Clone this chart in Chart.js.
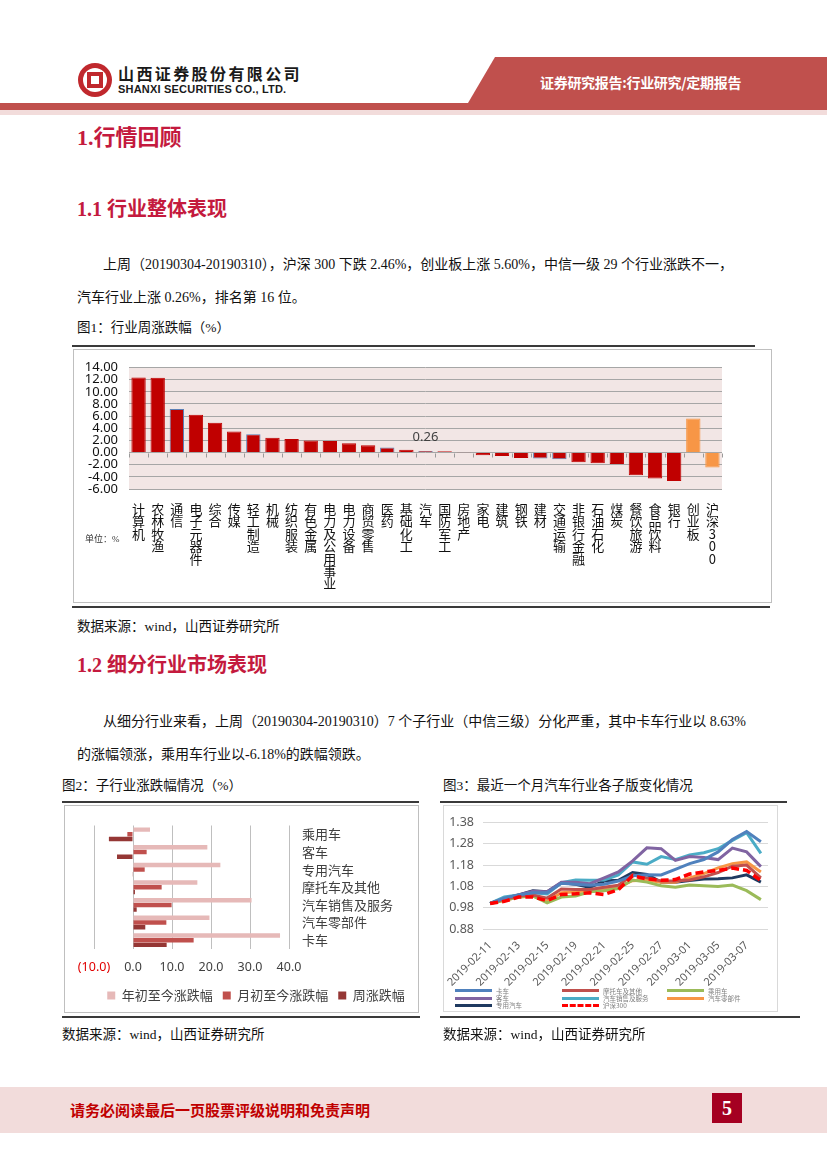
<!DOCTYPE html>
<html>
<head>
<meta charset="utf-8">
<title>汽车行业周报</title>
<script src="https://cdn.jsdelivr.net/npm/chart.js@4.4.1/dist/chart.umd.min.js"></script>
<style>
  html,body{margin:0;padding:0;}
  body{width:827px;height:1169px;position:relative;overflow:hidden;background:#fff;
       font-family:"Liberation Serif","Noto Sans CJK SC",serif;color:#111;}
  .t{position:absolute;white-space:nowrap;}
  .h{color:#c41a3e;font-weight:bold;}
  .p{font-size:14px;line-height:16px;}
  .cap{font-size:13.5px;line-height:16px;}
  .rule{position:absolute;background:#3a3a3a;height:2px;}
  .box{position:absolute;box-sizing:border-box;border:1px solid #bfbfbf;}
  canvas{position:absolute;}
  #legend3{position:absolute;left:455px;top:987px;display:grid;
           grid-template-columns:107px 105px 100px;grid-auto-rows:7.4px;
           font-family:"Noto Sans CJK SC",sans-serif;font-size:6.5px;color:#7f7f7f;}
  #legend3 div{display:flex;align-items:center;white-space:nowrap;}
  #legend3 span.ln{display:inline-block;width:37px;height:0;margin-right:4px;}
</style>
</head>
<body>

<!-- 页眉 -->
<div class="t" style="left:468px;top:57px;width:359px;height:46px;background:#c0504d;clip-path:polygon(27px 0,100% 0,100% 100%,0 100%);"></div>
<div style="position:absolute;left:0;top:103px;width:827px;height:7px;background:#c0504d"></div>
<div style="position:absolute;left:0;top:110px;width:827px;height:5px;background:#f2dcdb"></div>
<div style="position:absolute;left:78px;top:63px;width:34px;height:34px;border-radius:50%;background:#c0282d;">
  <div style="position:absolute;left:5px;top:5px;width:24px;height:24px;border-radius:50%;background:#fff;">
    <div style="position:absolute;left:4px;top:4px;width:16px;height:16px;background:#c0282d;">
      <div style="position:absolute;left:4px;top:4px;width:8px;height:8px;background:#fff;"></div>
    </div>
  </div>
</div>
<div class="t" style="left:118px;top:64px;font-family:'Noto Sans CJK SC';font-weight:bold;font-size:16px;line-height:18px;letter-spacing:2.4px;color:#1a1a1a;">山西证券股份有限公司</div>
<div class="t" style="left:118px;top:83px;font-family:'Liberation Sans';font-weight:bold;font-size:11px;line-height:12px;letter-spacing:0.2px;color:#1a1a1a;">SHANXI SECURITIES CO., LTD.</div>
<div class="t" style="left:540px;top:73px;font-family:'Noto Sans CJK SC';font-weight:bold;font-size:14px;line-height:18px;color:#fff;letter-spacing:-0.3px;">证券研究报告:行业研究/定期报告</div>

<!-- 正文 -->
<div class="t h" style="left:77px;top:126px;font-size:22px;line-height:24px;">1.行情回顾</div>
<div class="t h" style="left:77px;top:198px;font-size:20px;line-height:22px;">1.1 行业整体表现</div>
<div class="t p" style="left:103px;top:257px;">上周（20190304-20190310），沪深 300 下跌 2.46%，创业板上涨 5.60%，中信一级 29 个行业涨跌不一，</div>
<div class="t p" style="left:77px;top:290px;">汽车行业上涨 0.26%，排名第 16 位。</div>
<div class="t cap" style="left:77px;top:320px;">图1：行业周涨跌幅（%）</div>

<div class="rule" style="left:72px;top:345px;width:683px;"></div>
<div class="box" style="left:73px;top:349px;width:699px;height:254px;"></div>
<canvas id="c1" width="697" height="252" style="left:74px;top:350px;width:697px;height:252px;"></canvas>
<div class="t" style="left:85px;top:534px;font-size:9px;line-height:11px;color:#333;">单位：%</div>
<div class="rule" style="left:72px;top:606px;width:698px;"></div>
<div class="t cap" style="left:77px;top:619px;">数据来源：wind，山西证券研究所</div>

<div class="t h" style="left:77px;top:654px;font-size:20px;line-height:22px;">1.2 细分行业市场表现</div>
<div class="t p" style="left:103px;top:714px;">从细分行业来看，上周（20190304-20190310）7 个子行业（中信三级）分化严重，其中卡车行业以 8.63%</div>
<div class="t p" style="left:77px;top:747px;">的涨幅领涨，乘用车行业以-6.18%的跌幅领跌。</div>

<div class="t cap" style="left:62px;top:778px;">图2：子行业涨跌幅情况（%）</div>
<div class="t cap" style="left:443px;top:778px;">图3：最近一个月汽车行业各子版变化情况</div>
<div class="rule" style="left:62px;top:801px;width:357px;"></div>
<div class="rule" style="left:440px;top:801px;width:347px;"></div>
<div class="box" style="left:64px;top:805px;width:355px;height:208px;"></div>
<div class="box" style="left:443px;top:805px;width:335px;height:207px;border-color:#d9d9d9;"></div>
<canvas id="c2" width="353" height="206" style="left:65px;top:806px;width:353px;height:206px;"></canvas>
<canvas id="c3" width="333" height="205" style="left:444px;top:806px;width:333px;height:205px;"></canvas>
<div id="legend3"></div>
<div class="rule" style="left:62px;top:1016px;width:358px;"></div>
<div class="rule" style="left:440px;top:1016px;width:360px;"></div>
<div class="t cap" style="left:62px;top:1027px;">数据来源：wind，山西证券研究所</div>
<div class="t cap" style="left:443px;top:1027px;">数据来源：wind，山西证券研究所</div>

<!-- 页脚 -->
<div style="position:absolute;left:0;top:1087px;width:827px;height:46px;background:#f2dcdb;"></div>
<div class="t" style="left:70px;top:1100px;font-family:'Noto Sans CJK SC';font-weight:bold;font-size:15px;line-height:20px;color:#c00000;">请务必阅读最后一页股票评级说明和免责声明</div>
<div class="t" style="left:712px;top:1093px;width:30px;height:30px;background:#a50021;color:#fff;font-weight:bold;font-size:20px;line-height:30px;text-align:center;">5</div>

<script>
// 图1：中信一级行业周涨跌幅（%）
var industryNames = ['计算机','农林牧渔','通信','电子元器件','综合','传媒','轻工制造','机械','纺织服装',
  '有色金属','电力及公用事业','电力设备','商贸零售','医药','基础化工','汽车','国防军工','房地产','家电',
  '建筑','钢铁','建材','交通运输','非银行金融','石油石化','煤炭','餐饮旅游','食品饮料','银行','创业板','沪深300'];
var weeklyChange = [12.34, 12.30, 7.18, 6.22, 4.89, 3.46, 3.03, 2.45, 2.23,
  1.97, 1.91, 1.54, 1.22, 0.85, 0.48, 0.26, 0.22, -0.05, -0.43,
  -0.58, -0.90, -0.96, -1.10, -1.60, -1.75, -1.90, -3.72, -4.26, -4.68, 5.60, -2.46];
var weeklyTicks = [-6, -4, -2, 0, 2, 4, 6, 8, 10, 12, 14];
var indexNames = ['创业板','沪深300'];
var outlinedNames = ['通信','轻工制造','医药','汽车','建材','交通运输'];

// 图2：子行业涨跌幅（%）
var subNames = ['乘用车','客车','专用汽车','摩托车及其他','汽车销售及服务','汽车零部件','卡车'];
var ytdChange = [4.36, 19.06, 22.40, 16.50, 30.40, 19.60, 37.70];
var mtdChange = [-1.45, 3.50, 3.00, 7.35, 9.90, 8.55, 15.55];
var wkChange = [-6.18, -4.10, -0.08, 0.50, 0.95, 3.15, 8.63];
var subTicks = [-10, 0, 10, 20, 30, 40];

// 图3：最近一个月汽车行业各子版变化（2019-02-11 = 1）
var tradeDates = ['2019-02-11','2019-02-12','2019-02-13','2019-02-14','2019-02-15','2019-02-18','2019-02-19',
  '2019-02-20','2019-02-21','2019-02-22','2019-02-25','2019-02-26','2019-02-27','2019-02-28','2019-03-01',
  '2019-03-04','2019-03-05','2019-03-06','2019-03-07','2019-03-08'];
var shownDates = ['2019-02-11','2019-02-13','2019-02-15','2019-02-19','2019-02-21','2019-02-25',
  '2019-02-27','2019-03-01','2019-03-05','2019-03-07'];
var navTruck = [1.00,1.025,1.04,1.05,1.05,1.095,1.09,1.085,1.09,1.105,1.13,1.135,1.134,1.16,1.187,1.206,1.242,1.30,1.338,1.29];
var navMoto = [1.00,1.02,1.035,1.04,1.025,1.068,1.065,1.065,1.076,1.085,1.134,1.12,1.105,1.105,1.11,1.125,1.145,1.175,1.18,1.12];
var navCar = [1.00,1.015,1.03,1.035,1.003,1.03,1.035,1.055,1.06,1.07,1.11,1.10,1.083,1.076,1.087,1.083,1.08,1.086,1.06,1.018];
var navBus = [1.00,1.022,1.04,1.057,1.055,1.10,1.10,1.093,1.12,1.148,1.20,1.261,1.257,1.202,1.22,1.216,1.206,1.26,1.242,1.173];
var navSales = [1.00,1.03,1.04,1.05,1.045,1.097,1.11,1.109,1.11,1.134,1.195,1.184,1.22,1.206,1.228,1.238,1.257,1.296,1.332,1.235];
var navParts = [1.00,1.015,1.03,1.035,1.01,1.05,1.055,1.06,1.065,1.08,1.107,1.11,1.10,1.10,1.12,1.14,1.167,1.187,1.195,1.148];
var navSpecial = [1.00,1.025,1.04,1.06,1.055,1.097,1.09,1.075,1.105,1.109,1.145,1.136,1.10,1.10,1.108,1.115,1.116,1.12,1.134,1.10];
var navHs300 = [1.00,1.01,1.03,1.03,1.013,1.042,1.045,1.05,1.042,1.065,1.13,1.115,1.109,1.112,1.138,1.148,1.155,1.166,1.155,1.107];
var navTicks = [0.88, 0.98, 1.08, 1.18, 1.28, 1.38];

var cjk = '"Noto Sans CJK SC","Noto Sans",sans-serif';
var num = '"Noto Sans",sans-serif';
Chart.defaults.font.family = cjk;

var plotBg = {
  id: 'plotBg',
  beforeDraw: function(c) {
    var a = c.chartArea, ctx = c.ctx;
    ctx.save();
    ctx.fillStyle = '#f2e6e5';
    ctx.fillRect(a.left, a.top, a.right - a.left, a.bottom - a.top);
    ctx.restore();
  }
};

// 零轴上的分类刻度
var zeroAxisTicks = {
  id: 'zeroAxisTicks',
  afterDraw: function(c) {
    var xs = c.scales.x, ys = c.scales.y, ctx = c.ctx;
    var y0 = Math.round(ys.getPixelForValue(0)) + 0.5;
    var half = (xs.getPixelForValue(1) - xs.getPixelForValue(0)) / 2;
    ctx.save();
    ctx.strokeStyle = '#9a9a9a';
    ctx.lineWidth = 1;
    ctx.beginPath();
    for (var i = 0; i <= industryNames.length; i++) {
      var px = Math.round(xs.getPixelForValue(i) - half) + 0.5;
      ctx.moveTo(px, y0);
      ctx.lineTo(px, y0 + 4);
    }
    ctx.stroke();
    ctx.restore();
  }
};

// 汽车的数值标签
var autoLabel = {
  id: 'autoLabel',
  afterDatasetsDraw: function(c) {
    var i = industryNames.indexOf('汽车');
    var bar = c.getDatasetMeta(0).data[i];
    var ctx = c.ctx;
    ctx.save();
    ctx.font = '13px ' + num;
    ctx.fillStyle = '#404040';
    ctx.textAlign = 'center';
    ctx.textBaseline = 'middle';
    ctx.fillText(weeklyChange[i].toFixed(2), bar.x, bar.y - 14);
    ctx.restore();
  }
};

new Chart(document.getElementById('c1'), {
  type: 'bar',
  data: {
    labels: industryNames.map(function(s) { return s.split(''); }),
    datasets: [{
      data: weeklyChange,
      backgroundColor: industryNames.map(function(n) { return indexNames.indexOf(n) >= 0 ? '#f79646' : '#c00000'; }),
      borderColor: industryNames.map(function(n) {
        if (outlinedNames.indexOf(n) >= 0) return '#5b7fb5';
        return indexNames.indexOf(n) >= 0 ? '#f79646' : '#c00000';
      }),
      borderWidth: 1,
      barPercentage: 0.75,
      categoryPercentage: 1.0
    }]
  },
  options: {
    responsive: false,
    animation: false,
    layout: { padding: { left: 0, right: 49, top: 13, bottom: 0 } },
    plugins: { legend: { display: false }, tooltip: { enabled: false } },
    scales: {
      x: {
        grid: { display: false },
        border: { display: false },
        ticks: { autoSkip: false, maxRotation: 0, minRotation: 0, color: '#111', padding: 6,
                 font: { size: 13, lineHeight: 0.95 } },
        afterFit: function(s) { s.height = 113; }
      },
      y: {
        min: Math.min.apply(null, weeklyTicks),
        max: Math.max.apply(null, weeklyTicks),
        grid: { color: '#a6a6a6', drawTicks: false },
        border: { display: false },
        ticks: { autoSkip: false, stepSize: weeklyTicks[1] - weeklyTicks[0], padding: 11, color: '#111',
                 font: { size: 13, family: num, lineHeight: 1 },
                 callback: function(v) { return v.toFixed(2); } },
        afterFit: function(s) { s.width = 55; }
      }
    }
  },
  plugins: [plotBg, zeroAxisTicks, autoLabel]
});

new Chart(document.getElementById('c2'), {
  type: 'bar',
  data: {
    labels: subNames,
    datasets: [
      { label: '年初至今涨跌幅', data: ytdChange, backgroundColor: '#e6b9b8' },
      { label: '月初至今涨跌幅', data: mtdChange, backgroundColor: '#c0504d' },
      { label: '周涨跌幅', data: wkChange, backgroundColor: '#953735' }
    ]
  },
  options: {
    indexAxis: 'y',
    responsive: false,
    animation: false,
    datasets: { bar: { categoryPercentage: 0.8, barPercentage: 0.95 } },
    layout: { padding: { left: 29, right: 0, top: 14, bottom: 0 } },
    plugins: {
      tooltip: { enabled: false },
      legend: {
        position: 'bottom',
        labels: { boxWidth: 8, boxHeight: 8, padding: 10, color: '#404040', font: { size: 13 } }
      }
    },
    scales: {
      x: {
        min: Math.min.apply(null, subTicks),
        max: Math.max.apply(null, subTicks),
        grid: { color: '#bfbfbf', drawTicks: false },
        border: { display: false },
        ticks: { autoSkip: false, maxRotation: 0, minRotation: 0, stepSize: subTicks[1] - subTicks[0], padding: 11,
                 font: { size: 12.5, family: num },
                 color: function(ctx) { return ctx.tick && ctx.tick.value < 0 ? '#e00000' : '#404040'; },
                 callback: function(v) { return v < 0 ? '(' + Math.abs(v).toFixed(1) + ')' : v.toFixed(1); } },
        afterFit: function(s) { s.height = 30; }
      },
      y: {
        position: 'right',
        grid: { display: false, drawTicks: false },
        border: { display: false },
        ticks: { autoSkip: false, padding: 13, color: '#404040', font: { size: 13, lineHeight: 1 } },
        afterFit: function(s) { s.width = 129; }
      }
    }
  }
});

var lineSeries = [
  { label: '卡车', data: navTruck, color: '#4f81bd' },
  { label: '摩托车及其他', data: navMoto, color: '#c0504d' },
  { label: '乘用车', data: navCar, color: '#9bbb59' },
  { label: '客车', data: navBus, color: '#8064a2' },
  { label: '汽车销售及服务', data: navSales, color: '#4bacc6' },
  { label: '汽车零部件', data: navParts, color: '#f79646' },
  { label: '专用汽车', data: navSpecial, color: '#1f3a60' },
  { label: '沪深300', data: navHs300, color: '#ff0000', dash: true }
];

var chart3 = new Chart(document.getElementById('c3'), {
  type: 'line',
  data: {
    labels: tradeDates,
    datasets: lineSeries.map(function(s) {
      return {
        label: s.label, data: s.data, borderColor: s.color, backgroundColor: s.color,
        borderWidth: s.dash ? 3.5 : 3, borderDash: s.dash ? [8, 4] : [],
        pointRadius: 0, tension: 0, fill: false,
        order: s.dash ? 0 : 1
      };
    })
  },
  options: {
    responsive: false,
    animation: false,
    layout: { padding: { left: 0, right: 9, top: 9, bottom: 0 } },
    plugins: { legend: { display: false }, tooltip: { enabled: false } },
    scales: {
      x: {
        offset: true,
        grid: { display: false },
        border: { display: false },
        ticks: { autoSkip: false, maxRotation: 45, minRotation: 45, padding: 2, color: '#595959',
                 font: { size: 11, family: num },
                 callback: function(v, i) { var d = tradeDates[i]; return shownDates.indexOf(d) >= 0 ? d : ''; } },
        afterFit: function(s) { s.height = 82; }
      },
      y: {
        min: navTicks[0],
        max: navTicks[navTicks.length - 1],
        grid: { color: '#d9d9d9', drawTicks: false },
        border: { display: false },
        ticks: { autoSkip: false, stepSize: 0.1, padding: 9, color: '#595959', font: { size: 12.5, family: num },
                 callback: function(v) { return v.toFixed(2); } },
        afterFit: function(s) { s.width = 39; }
      }
    }
  }
});

// 图3 图例（三列排布）
var lg = document.getElementById('legend3');
chart3.data.datasets.forEach(function(ds) {
  var item = document.createElement('div');
  var ln = document.createElement('span');
  ln.className = 'ln';
  ln.style.borderTop = '3px ' + (ds.borderDash.length ? 'dashed ' : 'solid ') + ds.borderColor;
  item.appendChild(ln);
  item.appendChild(document.createTextNode(ds.label));
  lg.appendChild(item);
});
</script>
</body>
</html>
